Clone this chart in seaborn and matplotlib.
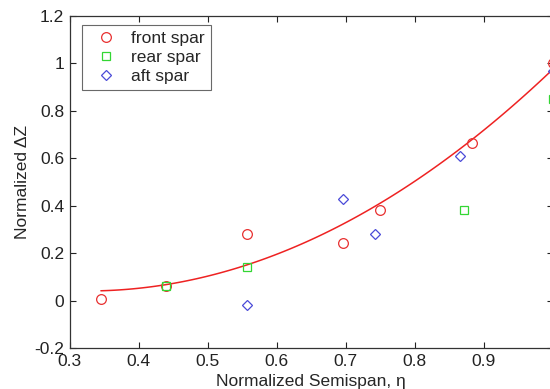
import numpy as np
import pandas as pd
import matplotlib
matplotlib.use("Agg")
import matplotlib.pyplot as plt
import seaborn as sns

# ---- data ----
front_x = [0.345, 0.440, 0.557, 0.696, 0.750, 0.883, 1.000]
front_y = [0.008, 0.060, 0.282, 0.244, 0.384, 0.666, 1.003]
rear_x = [0.440, 0.557, 0.871, 1.000]
rear_y = [0.060, 0.140, 0.380, 0.852]
aft_x = [0.557, 0.696, 0.743, 0.866, 1.000]
aft_y = [-0.017, 0.427, 0.279, 0.608, 0.970]
series_names = ["front spar", "rear spar", "aft spar"]
x_ticks = [0.3, 0.4, 0.5, 0.6, 0.7, 0.8, 0.9, 1.0]
y_ticks = [-0.2, 0, 0.2, 0.4, 0.6, 0.8, 1.0, 1.2]
x_tick_labels = ["0.3", "0.4", "0.5", "0.6", "0.7", "0.8", "0.9", ""]
y_tick_labels = ["-0.2", "0", "0.2", "0.4", "0.6", "0.8", "1", "1.2"]

df = pd.concat([
    pd.DataFrame({"x": front_x, "y": front_y, "series": series_names[0]}),
    pd.DataFrame({"x": rear_x, "y": rear_y, "series": series_names[1]}),
    pd.DataFrame({"x": aft_x, "y": aft_y, "series": series_names[2]}),
], ignore_index=True)

sns.set_style("ticks")
plt.rcParams["font.family"] = ["Liberation Sans", "DejaVu Sans"]
plt.rcParams["xtick.direction"] = "in"
plt.rcParams["ytick.direction"] = "in"

fig = plt.figure(figsize=(5.5, 3.89), dpi=100)
ax = fig.add_axes([0.127, 0.1054, 0.878, 0.8535])

# quadratic fit through the front spar points
sns.regplot(data=df[df["series"] == "front spar"], x="x", y="y", order=2, ci=None,
            scatter=False, truncate=True,
            line_kws=dict(color="#ee2222", lw=1.1), ax=ax)

styles = {
    "front spar": dict(marker="o", color="#e83030", ms=7.0),
    "rear spar": dict(marker="s", color="#33d633", ms=6.2),
    "aft spar": dict(marker="D", color="#4a4ad8", ms=5.6),
}
for name in series_names:
    sub = df[df["series"] == name]
    st = styles[name]
    sns.lineplot(data=sub, x="x", y="y", estimator=None, sort=False, ax=ax,
                 linestyle="", marker=st["marker"], markersize=st["ms"],
                 markerfacecolor="none", markeredgecolor=st["color"],
                 markeredgewidth=0.9, color=st["color"], label=name)

ax.set_xlim(0.3, 1.0)
ax.set_ylim(-0.2, 1.2)
ax.set_xticks(x_ticks)
ax.set_xticklabels(x_tick_labels)
ax.set_yticks(y_ticks)
ax.set_yticklabels(y_tick_labels)
ax.tick_params(axis="both", which="both", direction="in", top=True, right=True,
               length=4, width=0.8, labelsize=12.5, colors="#222222", pad=4)
ax.tick_params(axis="x", pad=4)
for sp in ax.spines.values():
    sp.set_visible(True)
    sp.set_linewidth(0.9)
    sp.set_color("#333333")

ax.set_xlabel("Normalized Semispan, η", fontsize=12.5, labelpad=4)
ax.set_ylabel("Normalized ΔZ", fontsize=12.5, labelpad=3)

leg = ax.legend(loc="upper left", bbox_to_anchor=(0.0248, 0.973), borderaxespad=0,
                frameon=True, fancybox=False, fontsize=12.5, handlelength=2.05,
                handletextpad=0.46, borderpad=0.35, labelspacing=0.22)
leg.get_frame().set_edgecolor("#444444")
leg.get_frame().set_linewidth(0.8)

fig.savefig("out.png", dpi=100)
